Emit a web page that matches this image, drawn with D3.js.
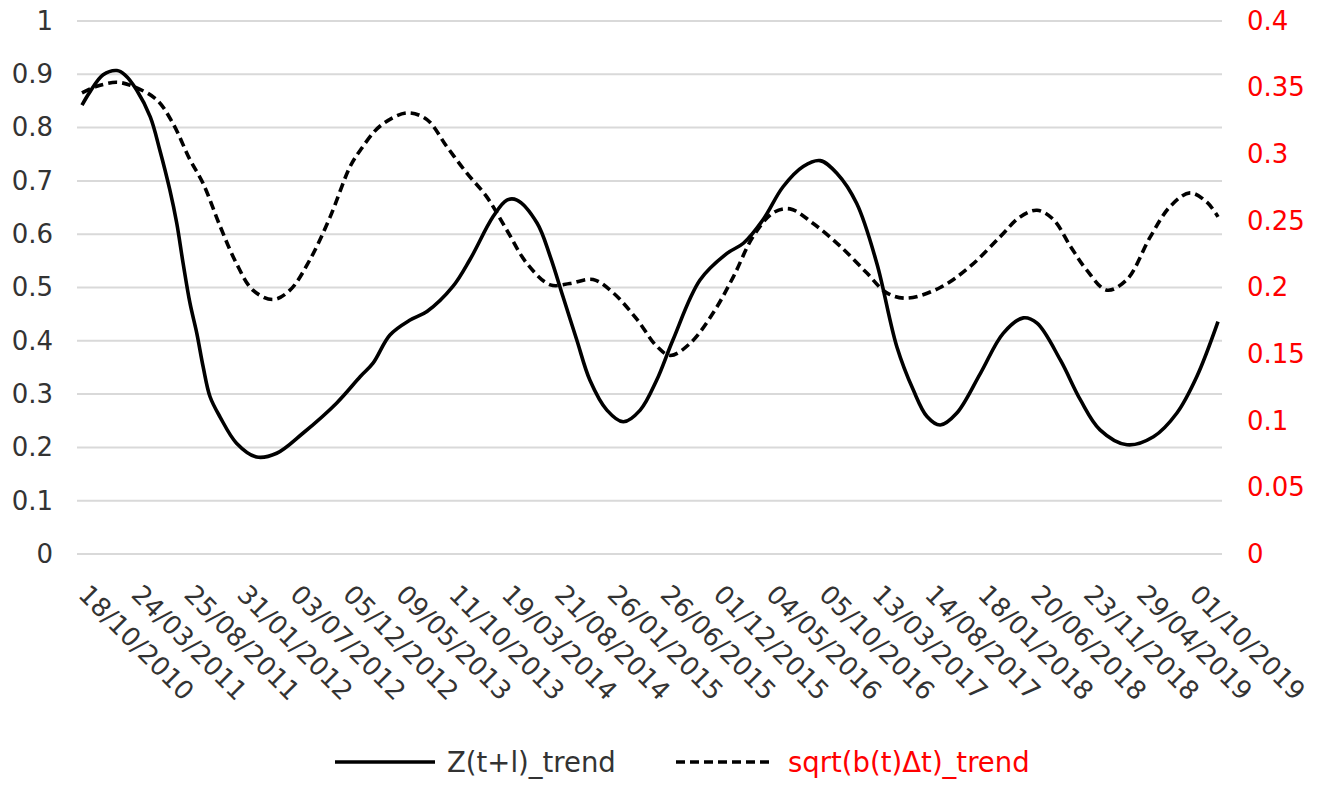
<!DOCTYPE html>
<html>
<head>
<meta charset="utf-8">
<script src="https://cdn.jsdelivr.net/npm/d3@7/dist/d3.min.js"></script>
<style>
  html, body { margin: 0; padding: 0; background: #fff; }
  svg { display: block; }
  text { font-family: "DejaVu Sans", Verdana, sans-serif; }
</style>
</head>
<body>
<svg id="chart" width="1328" height="787"></svg>
<script>
// Category labels shown along the time axis (every ~110th observation)
const dateLabels = [
  "18/10/2010", "24/03/2011", "25/08/2011", "31/01/2012", "03/07/2012",
  "05/12/2012", "09/05/2013", "11/10/2013", "19/03/2014", "21/08/2014",
  "26/01/2015", "26/06/2015", "01/12/2015", "04/05/2016", "05/10/2016",
  "13/03/2017", "14/08/2017", "18/01/2018", "20/06/2018", "23/11/2018",
  "29/04/2019", "01/10/2019"
];

// Axis ticks
const leftTicks = [0, 0.1, 0.2, 0.3, 0.4, 0.5, 0.6, 0.7, 0.8, 0.9, 1];
const rightTicks = [0, 0.05, 0.1, 0.15, 0.2, 0.25, 0.3, 0.35, 0.4];

// Positions are measured in label intervals from the first label
const zPos = [0, 0.15, 0.40, 0.66, 0.81, 1.03, 1.29, 1.47, 1.66, 1.79, 1.91, 2.04, 2.17, 2.29, 2.42,
  2.61, 2.92, 3.30, 3.68, 4.18, 4.81, 5.26, 5.50, 5.82, 6.20, 6.52, 7.01, 7.33, 7.77, 8.03, 8.22,
  8.60, 8.85, 9.09, 9.35, 9.60, 9.92, 10.23, 10.55, 10.86, 11.17, 11.68, 12.19, 12.50, 12.87,
  13.25, 13.63, 13.95, 14.27, 14.64, 15.02, 15.40, 15.71, 15.97, 16.22, 16.53, 16.98, 17.41,
  17.79, 18.05, 18.49, 18.87, 19.24, 19.75, 20.25, 20.69, 21.07, 21.47];
// Z(t+l)_trend, left axis
const zValues = [0.842, 0.867, 0.899, 0.907, 0.899, 0.871, 0.820, 0.758, 0.683, 0.621, 0.546, 0.471,
  0.414, 0.351, 0.295, 0.257, 0.208, 0.182, 0.189, 0.227, 0.283, 0.333, 0.358, 0.411, 0.439,
  0.455, 0.502, 0.552, 0.633, 0.664, 0.664, 0.621, 0.558, 0.483, 0.402, 0.326, 0.270, 0.248,
  0.270, 0.326, 0.402, 0.514, 0.564, 0.583, 0.627, 0.689, 0.727, 0.738, 0.714, 0.658, 0.546,
  0.389, 0.308, 0.258, 0.242, 0.264, 0.339, 0.414, 0.443, 0.433, 0.364, 0.289, 0.233, 0.205,
  0.220, 0.264, 0.333, 0.436];

const bPos = [0, 0.28, 0.66, 0.96, 1.41, 1.72, 2.04, 2.29, 2.61, 2.92, 3.23, 3.61, 3.93, 4.31, 4.69,
  5.07, 5.26, 5.63, 6.14, 6.52, 6.89, 7.27, 7.65, 8.03, 8.41, 8.85, 9.22, 9.66, 10.04, 10.49,
  10.86, 11.12, 11.49, 11.93, 12.31, 12.68, 13.06, 13.38, 13.82, 14.33, 14.83, 15.21, 15.59,
  16.22, 16.79, 17.35, 17.73, 18.05, 18.36, 18.68, 18.99, 19.37, 19.75, 20.19, 20.57, 20.94,
  21.26, 21.47];
// sqrt(b(t)Δt)_trend, right axis
const bValues = [0.346, 0.351, 0.354, 0.351, 0.341, 0.323, 0.296, 0.278, 0.246, 0.218, 0.198, 0.191,
  0.198, 0.221, 0.253, 0.291, 0.303, 0.321, 0.331, 0.326, 0.306, 0.286, 0.268, 0.243, 0.218,
  0.202, 0.203, 0.206, 0.196, 0.176, 0.156, 0.149, 0.158, 0.181, 0.208, 0.238, 0.256, 0.259,
  0.248, 0.231, 0.211, 0.196, 0.192, 0.200, 0.216, 0.238, 0.253, 0.258, 0.251, 0.231, 0.213,
  0.198, 0.206, 0.238, 0.261, 0.271, 0.264, 0.253];

const seriesNames = ["Z(t+l)_trend", "sqrt(b(t)\u0394t)_trend"];

const svg = d3.select("#chart");
const plot = { left: 77, right: 1222, top: 21, bottom: 554 };
const textColor = "#333333";
const lineWidth = 3.6;
const dashPattern = "9,5";

const x = d3.scaleLinear().domain([0, 21.47]).range([82, 1218]);
const yL = d3.scaleLinear().domain([0, 1]).range([plot.bottom, plot.top]);
const yR = d3.scaleLinear().domain([0, 0.4]).range([plot.bottom, plot.top]);

// Horizontal gridlines
svg.append("g").selectAll("line").data(leftTicks).join("line")
  .attr("x1", plot.left).attr("x2", plot.right)
  .attr("y1", d => yL(d)).attr("y2", d => yL(d))
  .attr("stroke", "#d9d9d9").attr("stroke-width", 2);

// Left axis labels
const leftAxis = d3.axisLeft(yL).tickValues(leftTicks).tickSize(0).tickPadding(0)
  .tickFormat(d3.format("~g"));
svg.append("g").attr("transform", "translate(53,0)").call(leftAxis)
  .call(g => g.select(".domain").remove())
  .selectAll("text").attr("font-size", 26).attr("fill", textColor)
  .attr("font-family", "DejaVu Sans, Verdana, sans-serif");

// Right axis labels
const rightAxis = d3.axisRight(yR).tickValues(rightTicks).tickSize(0).tickPadding(0)
  .tickFormat(d3.format("~g"));
svg.append("g").attr("transform", "translate(1247,0)").call(rightAxis)
  .call(g => g.select(".domain").remove())
  .selectAll("text").attr("font-size", 26).attr("fill", "#ff0000")
  .attr("font-family", "DejaVu Sans, Verdana, sans-serif");

// Rotated category labels
svg.append("g").selectAll("text").data(dateLabels).join("text")
  .attr("transform", (d, i) => `translate(${x(i) - 5},596) rotate(45)`)
  .attr("font-size", 26).attr("fill", textColor)
  .text(d => d);

// Series lines
const zData = zPos.map((p, i) => [p, zValues[i]]);
const bData = bPos.map((p, i) => [p, bValues[i]]);

svg.append("path").datum(zData)
  .attr("fill", "none").attr("stroke", "#000").attr("stroke-width", lineWidth)
  .attr("stroke-linejoin", "round")
  .attr("d", d3.line().x(d => x(d[0])).y(d => yL(d[1])).curve(d3.curveCatmullRom.alpha(0.5)));

svg.append("path").datum(bData)
  .attr("fill", "none").attr("stroke", "#000").attr("stroke-width", lineWidth)
  .attr("stroke-dasharray", dashPattern)
  .attr("d", d3.line().x(d => x(d[0])).y(d => yR(d[1])).curve(d3.curveCatmullRom.alpha(0.5)));

// Legend
const legend = svg.append("g");
legend.append("line").attr("x1", 335).attr("x2", 435).attr("y1", 762).attr("y2", 762)
  .attr("stroke", "#000").attr("stroke-width", lineWidth);
legend.append("text").attr("x", 447).attr("y", 772).attr("font-size", 27.5).attr("fill", textColor)
  .text(seriesNames[0]);
legend.append("line").attr("x1", 676).attr("x2", 774).attr("y1", 762).attr("y2", 762)
  .attr("stroke", "#000").attr("stroke-width", lineWidth).attr("stroke-dasharray", dashPattern);
legend.append("text").attr("x", 788).attr("y", 772).attr("font-size", 27.5).attr("fill", "#ff0000")
  .text(seriesNames[1]);
</script>
</body>
</html>
